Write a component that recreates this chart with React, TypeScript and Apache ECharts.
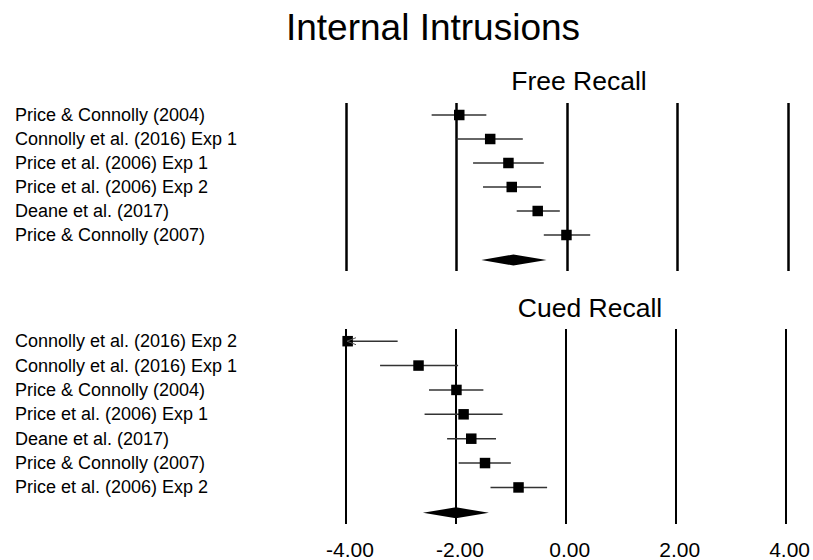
import React, { useEffect, useRef } from "react";
import * as echarts from "echarts";

const FONT = "'Liberation Sans', Arial, sans-serif";

const xTicks = [-4, -2, 0, 2, 4];

const freeStudies = [
  "Price & Connolly (2004)",
  "Connolly et al. (2016) Exp 1",
  "Price et al. (2006) Exp 1",
  "Price et al. (2006) Exp 2",
  "Deane et al. (2017)",
  "Price & Connolly (2007)",
];
const freeMean = [-1.95, -1.39, -1.06, -1.0, -0.53, -0.01];
const freeLower = [-2.45, -2.0, -1.7, -1.52, -0.91, -0.42];
const freeUpper = [-1.46, -0.8, -0.42, -0.47, -0.13, 0.42];
const freeSummary = [-1.55, -0.97, -0.37];

const cuedStudies = [
  "Connolly et al. (2016) Exp 2",
  "Connolly et al. (2016) Exp 1",
  "Price & Connolly (2004)",
  "Price et al. (2006) Exp 1",
  "Deane et al. (2017)",
  "Price & Connolly (2007)",
  "Price et al. (2006) Exp 2",
];
const cuedMean = [-3.97, -2.68, -1.99, -1.86, -1.72, -1.47, -0.86];
const cuedLower = [-4.6, -3.38, -2.49, -2.57, -2.16, -1.95, -1.37];
const cuedUpper = [-3.06, -1.96, -1.5, -1.15, -1.27, -1.0, -0.34];
const cuedSummary = [-2.6, -2.0, -1.4];

const X_MIN = xTicks[0];
const X_MAX = xTicks[xTicks.length - 1];

const studyRender = (params: any, api: any) => {
  const cat = api.value(0);
  const mean = api.value(1);
  const lo = api.value(2);
  const hi = api.value(3);
  const pLo = api.coord([Math.max(lo, X_MIN), cat]);
  const pHi = api.coord([Math.min(hi, X_MAX), cat]);
  const pM = api.coord([Math.max(mean, X_MIN), cat]);
  const s = 10.5;
  const children: any[] = [
    {
      type: "line",
      shape: { x1: pLo[0], y1: pLo[1], x2: pHi[0], y2: pHi[1] },
      style: { stroke: "#333", lineWidth: 1.5 },
    },
    {
      type: "rect",
      shape: { x: pM[0] - s / 2, y: pM[1] - s / 2, width: s, height: s },
      style: { fill: "#000" },
    },
  ];
  if (lo < X_MIN) {
    children.push({
      type: "polyline",
      shape: {
        points: [
          [pLo[0] + 10, pLo[1] - 3.5],
          [pLo[0] + 1, pLo[1]],
          [pLo[0] + 10, pLo[1] + 3.5],
        ],
      },
      style: { stroke: "#555", fill: "none", lineWidth: 1 },
      z2: 10,
    });
  }
  return { type: "group", children };
};

const diamondRender = (params: any, api: any) => {
  const cat = api.value(0);
  const pLo = api.coord([api.value(1), cat]);
  const pMid = api.coord([api.value(2), cat]);
  const pHi = api.coord([api.value(3), cat]);
  const h = 5.5;
  return {
    type: "polygon",
    shape: {
      points: [
        [pLo[0], pLo[1] + 1],
        [pMid[0], pMid[1] - h + 1],
        [pHi[0], pHi[1] + 1],
        [pMid[0], pMid[1] + h + 1],
      ],
    },
    style: { fill: "#000" },
  };
};

export default function App() {
  const ref = useRef<HTMLDivElement>(null);
  useEffect(() => {
    if (!ref.current) return;
    const chart = echarts.init(ref.current, undefined, { renderer: "svg" });

    const freeCats = [...freeStudies, ""];
    const cuedCats = [...cuedStudies, ""];

    const freeData = freeStudies.map((_, i) => [i, freeMean[i], freeLower[i], freeUpper[i]]);
    const cuedData = cuedStudies.map((_, i) => [i, cuedMean[i], cuedLower[i], cuedUpper[i]]);

    const xAxisBase = {
      type: "value",
      min: X_MIN,
      max: X_MAX,
      interval: 2,
      axisLine: { show: false },
      axisTick: { show: false },
    };
    const yAxisBase = {
      type: "category",
      inverse: true,
      axisLine: { show: false },
      axisTick: { show: false },
      splitLine: { show: false },
      axisLabel: {
        align: "left",
        margin: 331,
        fontSize: 18,
        color: "#000",
        fontFamily: FONT,
      },
    };

    chart.setOption({
      animation: false,
      backgroundColor: "#fff",
      title: [
        {
          text: "Internal Intrusions",
          left: 433,
          top: 8.7,
          padding: 0,
          textAlign: "center",
          textStyle: { fontSize: 37, fontWeight: "normal", color: "#000", fontFamily: FONT },
        },
        {
          text: "Free Recall",
          left: 579,
          top: 67.5,
          padding: 0,
          textAlign: "center",
          textStyle: { fontSize: 26.5, fontWeight: "normal", color: "#000", fontFamily: FONT },
        },
        {
          text: "Cued Recall",
          left: 590,
          top: 294.8,
          padding: 0,
          textAlign: "center",
          textStyle: { fontSize: 26.5, fontWeight: "normal", color: "#000", fontFamily: FONT },
        },
      ],
      grid: [
        { left: 346, right: 25, top: 103, height: 168 },
        { left: 346, right: 25, top: 329, height: 196 },
      ],
      xAxis: [
        {
          ...xAxisBase,
          gridIndex: 0,
          axisLabel: { show: false },
          splitLine: { show: true, showMinLine: true, showMaxLine: true, lineStyle: { color: "#000", width: 2.5 } },
        },
        {
          ...xAxisBase,
          gridIndex: 1,
          axisLabel: {
            show: true,
            margin: 15,
            fontSize: 21,
            color: "#000",
            fontFamily: FONT,
            padding: [0, 0, 0, 8],
            formatter: (v: number) => v.toFixed(2),
          },
          splitLine: { show: true, showMinLine: true, showMaxLine: true, lineStyle: { color: "#000", width: 2 } },
        },
      ],
      yAxis: [
        { ...yAxisBase, gridIndex: 0, data: freeCats },
        { ...yAxisBase, gridIndex: 1, data: cuedCats },
      ],
      series: [
        {
          type: "custom",
          name: "Free Recall studies",
          xAxisIndex: 0,
          yAxisIndex: 0,
          clip: false,
          renderItem: studyRender,
          encode: { x: [1, 2, 3], y: 0 },
          data: freeData,
        },
        {
          type: "custom",
          name: "Free Recall summary",
          xAxisIndex: 0,
          yAxisIndex: 0,
          clip: false,
          renderItem: diamondRender,
          encode: { x: [1, 2, 3], y: 0 },
          data: [[freeStudies.length, ...freeSummary]],
        },
        {
          type: "custom",
          name: "Cued Recall studies",
          xAxisIndex: 1,
          yAxisIndex: 1,
          clip: false,
          renderItem: studyRender,
          encode: { x: [1, 2, 3], y: 0 },
          data: cuedData,
        },
        {
          type: "custom",
          name: "Cued Recall summary",
          xAxisIndex: 1,
          yAxisIndex: 1,
          clip: false,
          renderItem: diamondRender,
          encode: { x: [1, 2, 3], y: 0 },
          data: [[cuedStudies.length, ...cuedSummary]],
        },
      ],
    });
    return () => chart.dispose();
  }, []);
  return <div ref={ref} style={{ width: 813, height: 560, position: "fixed", left: 0, top: 0 }} />;
}
